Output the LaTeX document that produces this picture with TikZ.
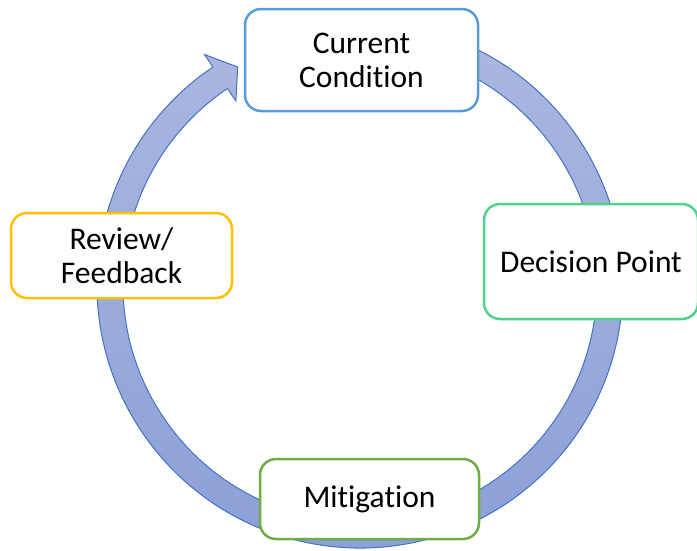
\documentclass[tikz,border=0pt]{standalone}
\usepackage{fontspec}
\setmainfont[Ligatures={NoCommon}]{Carlito}
\usetikzlibrary{calc}
\definecolor{ringedge}{RGB}{68,114,196}
\definecolor{ringtop}{RGB}{171,183,224}
\definecolor{ringbot}{RGB}{138,159,215}
\definecolor{ccblue}{RGB}{91,155,213}
\definecolor{rfgold}{RGB}{255,192,0}
\definecolor{dpgreen}{RGB}{80,210,140}
\definecolor{migreen}{RGB}{112,173,71}
\tikzset{
  stagebox/.style={draw, line width=2.5pt, rounded corners=16pt, fill=white,
    inner sep=0pt, align=center, font=\fontsize{31.5}{34}\selectfont},
  ringarrow/.style={draw=ringedge, line width=1pt, top color=ringtop, bottom color=ringbot},
}
\begin{document}
\begin{tikzpicture}[x=1pt,y=1pt]
\useasboundingbox (0,0) rectangle (697,-550);
\coordinate (C) at (360,-285);
% circular arrow
\path[ringarrow]
  ($(C)+(75:263)$) arc[start angle=75, end angle=-236, radius=263]
  -- ($(C)+(-236:278)$)
  -- ($(C)+(-240.7:250)$)
  -- ($(C)+(-236:222)$)
  -- ($(C)+(-236:237)$)
  arc[start angle=-236, end angle=75, radius=237]
  -- cycle;
% boxes
\node[stagebox, draw=ccblue, minimum width=233pt, minimum height=102pt] (cc) at (361.5,-60) {Current\\Condition};
\node[stagebox, draw=rfgold, minimum width=221pt, minimum height=85pt] (rf) at (121.5,-255.5) {Review/\\Feedback};
\node[stagebox, draw=dpgreen, minimum width=214pt, minimum height=115pt] (dp) at (591,-261.5) {Decision Point};
\node[stagebox, draw=migreen, minimum width=219pt, minimum height=80pt] (mi) at (369.5,-499) {Mitigation};
\end{tikzpicture}
\end{document}
